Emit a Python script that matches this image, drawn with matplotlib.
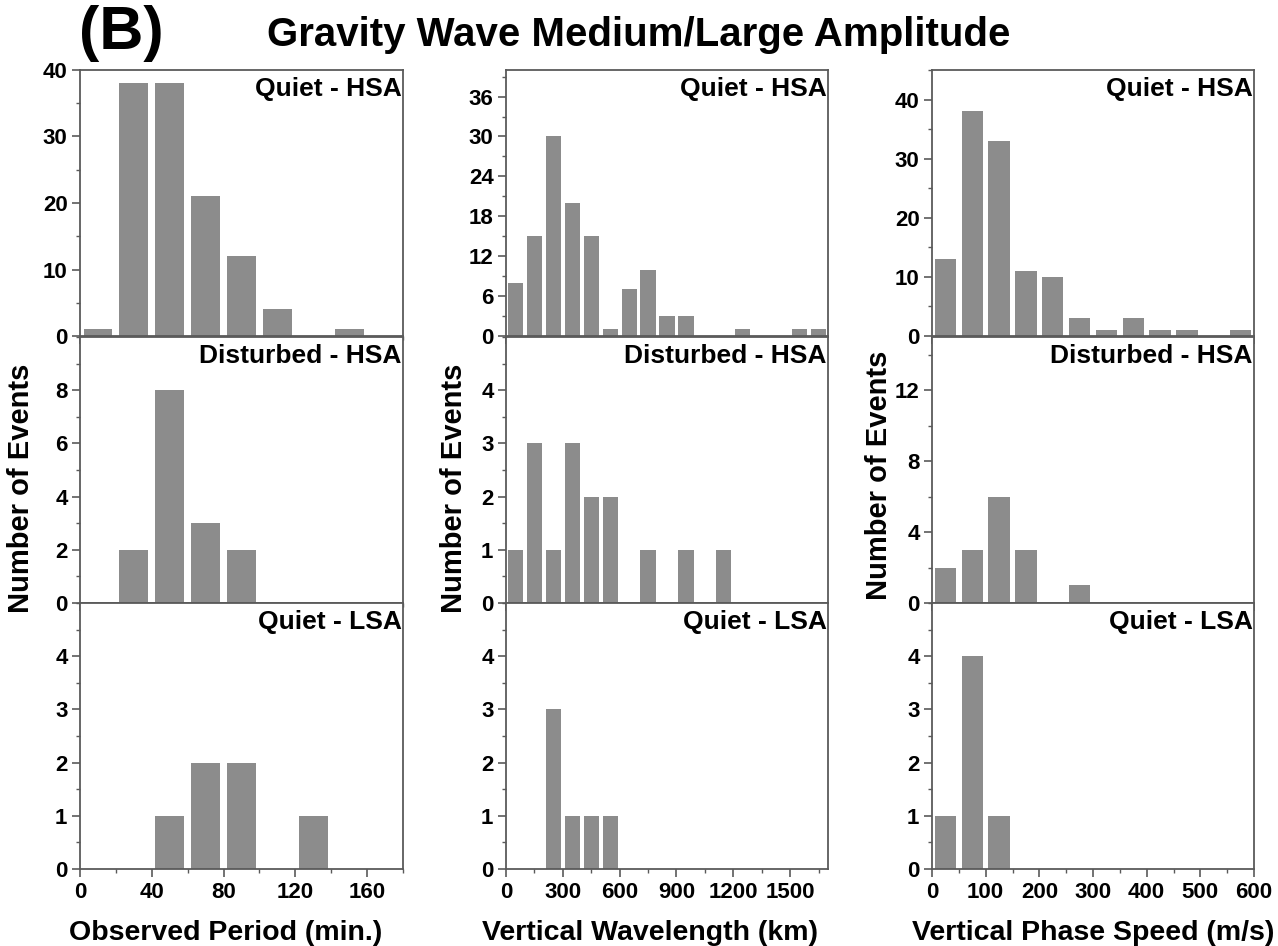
import numpy as np
import matplotlib
matplotlib.use("Agg")
import matplotlib.pyplot as plt
from matplotlib.ticker import MultipleLocator

plt.rcParams['font.family'] = ['Liberation Sans', 'DejaVu Sans']
plt.rcParams['font.weight'] = 'bold'

# observed period (min.), bins of 20
period_bins = [10, 30, 50, 70, 90, 110, 130, 150]
period_quiet_hsa = [1, 38, 38, 21, 12, 4, 0, 1]
period_dist_hsa = [0, 2, 8, 3, 2, 0, 0, 0]
period_quiet_lsa = [0, 0, 1, 2, 2, 0, 1, 0]

# vertical wavelength (km), bins of 100
wl_bins = [50, 150, 250, 350, 450, 550, 650, 750, 850, 950, 1050, 1150, 1250, 1350, 1450, 1550, 1650]
wl_quiet_hsa = [8, 15, 30, 20, 15, 1, 7, 10, 3, 3, 0, 0, 1, 0, 0, 1, 1]
wl_dist_hsa = [1, 3, 1, 3, 2, 2, 0, 1, 0, 1, 0, 1, 0, 0, 0, 0, 0]
wl_quiet_lsa = [0, 0, 3, 1, 1, 1, 0, 0, 0, 0, 0, 0, 0, 0, 0, 0, 0]

# vertical phase speed (m/s), bins of 50
speed_bins = [25, 75, 125, 175, 225, 275, 325, 375, 425, 475, 525, 575]
speed_quiet_hsa = [13, 38, 33, 11, 10, 3, 1, 3, 1, 1, 0, 1]
speed_dist_hsa = [2, 3, 6, 3, 0, 1, 0, 0, 0, 0, 0, 0]
speed_quiet_lsa = [1, 4, 1, 0, 0, 0, 0, 0, 0, 0, 0, 0]

row_names = ['Quiet - HSA', 'Disturbed - HSA', 'Quiet - LSA']

# (ymax, major step, minor step, last labelled tick)
cols = [
    dict(x=period_bins, ys=[period_quiet_hsa, period_dist_hsa, period_quiet_lsa],
         width=16, xlim=180, xmaj=40, xmin=20,
         ylims=[(40, 10, 5, 40), (10, 2, 1, 8), (5, 1, 0.5, 4)],
         xlabel='Observed Period (min.)'),
    dict(x=wl_bins, ys=[wl_quiet_hsa, wl_dist_hsa, wl_quiet_lsa],
         width=80, xlim=1700, xmaj=300, xmin=150,
         ylims=[(40, 6, 3, 36), (5, 1, 0.5, 4), (5, 1, 0.5, 4)],
         xlabel='Vertical Wavelength (km)'),
    dict(x=speed_bins, ys=[speed_quiet_hsa, speed_dist_hsa, speed_quiet_lsa],
         width=40, xlim=600, xmaj=100, xmin=50,
         ylims=[(45, 10, 5, 40), (15, 4, 2, 12), (5, 1, 0.5, 4)],
         xlabel='Vertical Phase Speed (m/s)'),
]

W, H = 1278, 946
fig = plt.figure(figsize=(W / 100, H / 100), dpi=100)

lefts = [80, 506, 932]
widths = [323, 322, 322]
tops = [70, 337, 603]
ph = 266
ylab_x = [-0.139, -0.118, -0.121]
ylab_y = [0.43, 0.43, 0.48]
xlab_x = [0.452, 0.447, 0.5]
spine_c = '#5a5a5a'
bar_c = '#8c8c8c'

for c, cfg in enumerate(cols):
    for r in range(3):
        ax = fig.add_axes([lefts[c] / W, 1 - (tops[r] + ph) / H, widths[c] / W, ph / H])
        ax.bar(cfg['x'], cfg['ys'][r], width=cfg['width'], color=bar_c, linewidth=0)
        ymax, ymaj, ymin, ylast = cfg['ylims'][r]
        ax.xaxis.set_major_locator(MultipleLocator(cfg['xmaj']))
        ax.xaxis.set_minor_locator(MultipleLocator(cfg['xmin']))
        ax.set_yticks(np.arange(0, ylast + ymaj / 2, ymaj))
        ax.yaxis.set_minor_locator(MultipleLocator(ymin))
        ax.set_xlim(0, cfg['xlim'])
        ax.set_ylim(0, ymax)
        for s in ax.spines.values():
            s.set_color(spine_c)
            s.set_linewidth(1.3)
        ax.tick_params(which='major', direction='out', length=6, width=1.2, color=spine_c,
                       labelsize=16, pad=3)
        ax.tick_params(which='minor', direction='out', length=3, width=1.0, color=spine_c)
        for lab in ax.get_yticklabels() + ax.get_xticklabels():
            lab.set_fontweight('bold')
        if r < 2:
            ax.tick_params(axis='x', which='both', labelbottom=False)
        else:
            ax.set_xlabel(cfg['xlabel'], fontsize=20.5, fontweight='bold')
            ax.xaxis.set_label_coords(xlab_x[c], -0.19)
        if r == 1:
            ax.set_ylabel('Number of Events', fontsize=21, fontweight='bold')
            ax.yaxis.set_label_coords(ylab_x[c], ylab_y[c])
        ax.text(0.995, 0.975, row_names[r], transform=ax.transAxes, ha='right', va='top',
                fontsize=19, fontweight='bold')

fig.text(0.5, 0.963, 'Gravity Wave Medium/Large Amplitude', ha='center', va='center',
         fontsize=29, fontweight='bold')
fig.text(0.095, 0.965, '(B)', ha='center', va='center', fontsize=44, fontweight='bold')

fig.savefig('out.png', dpi=100)
